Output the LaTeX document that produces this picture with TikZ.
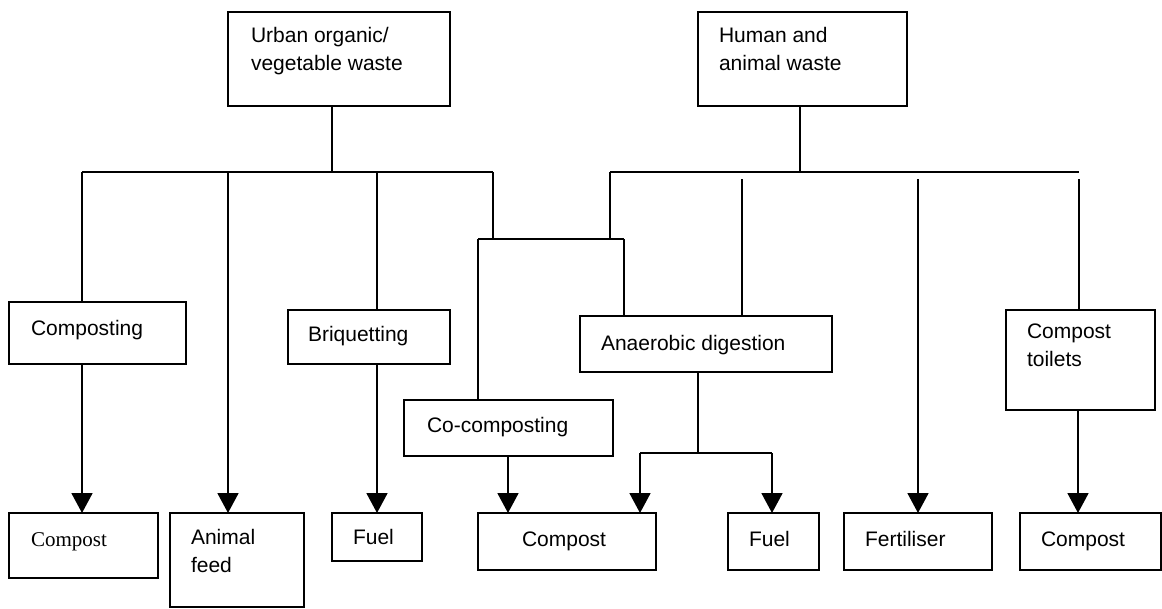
\documentclass[tikz,border=0pt]{standalone}
\usepackage{fontspec}
\setmainfont{Liberation Sans}
\newfontfamily\serifface{Liberation Serif}
\usetikzlibrary{arrows.meta}
\tikzset{
  box/.style={draw, line width=1.8pt, rectangle, inner sep=0pt, outer sep=0pt, anchor=north west},
  txt/.style={inner sep=0pt, outer sep=0pt, anchor=base west, align=left, font=\fontsize{21}{28}\selectfont},
  conn/.style={line width=1.8pt},
  arr/.style={line width=1.8pt, -{Triangle[length=20pt,width=21pt]}},
}
\begin{document}
\begin{tikzpicture}[x=1pt,y=-1pt]
\useasboundingbox (0,0) rectangle (1162,608);
% boxes
\node[box, minimum width=222pt, minimum height=94pt] (urban) at (228,12) {};
\node[box, minimum width=209pt, minimum height=94pt] (human) at (698,12) {};
\node[box, minimum width=177pt, minimum height=62pt] (composting) at (9,302) {};
\node[box, minimum width=162pt, minimum height=54pt] (briq) at (288,310) {};
\node[box, minimum width=209pt, minimum height=56pt] (cocomp) at (404,400) {};
\node[box, minimum width=252pt, minimum height=56pt] (anaer) at (580,316) {};
\node[box, minimum width=149pt, minimum height=100pt] (toilets) at (1006,310) {};
\node[box, minimum width=149pt, minimum height=65pt] (compostA) at (9,513) {};
\node[box, minimum width=134pt, minimum height=94pt] (feed) at (170,513) {};
\node[box, minimum width=90pt, minimum height=48pt] (fuelA) at (332,513) {};
\node[box, minimum width=178pt, minimum height=57pt] (compostB) at (478,513) {};
\node[box, minimum width=91pt, minimum height=57pt] (fuelB) at (728,513) {};
\node[box, minimum width=148pt, minimum height=57pt] (fert) at (844,513) {};
\node[box, minimum width=141pt, minimum height=57pt] (compostC) at (1020,513) {};
% texts (multi-line nodes are placed at the baseline of their last line)
\node[txt] (turban) at (251,70) {Urban organic/\\vegetable waste};
\node[txt] (thuman) at (719,70) {Human and\\animal waste};
\node[txt] (tcomposting) at (31,335) {Composting};
\node[txt] (tbriq) at (308,341) {Briquetting};
\node[txt] (tcocomp) at (427,432) {Co-composting};
\node[txt] (tanaer) at (601,350) {Anaerobic digestion};
\node[txt] (ttoilets) at (1027,366) {Compost\\toilets};
\node[txt, font=\serifface\fontsize{21}{28}\selectfont] (tcompostA) at (31,546) {Compost};
\node[txt] (tfeed) at (191,572) {Animal\\feed};
\node[txt] (tfuelA) at (353,544) {Fuel};
\node[txt] (tcompostB) at (522,546) {Compost};
\node[txt] (tfuelB) at (749,546) {Fuel};
\node[txt] (tfert) at (865,546) {Fertiliser};
\node[txt] (tcompostC) at (1041,546) {Compost};
% junction coordinates
\coordinate (ju) at (332,172);
\coordinate (juL) at (82,172);
\coordinate (juF) at (228,172);
\coordinate (juB) at (377,172);
\coordinate (juR) at (493,172);
\coordinate (jh) at (800,172);
\coordinate (jhL) at (610,172);
\coordinate (jhR) at (1079,172);
\coordinate (gA) at (742,179);
\coordinate (gF) at (918,179);
\coordinate (gT) at (1079,179);
\coordinate (mL) at (478,239);
\coordinate (mR) at (624,239);
\coordinate (ja) at (698,453);
\coordinate (jaL) at (640,453);
\coordinate (jaR) at (772,453);
% urban tree
\draw[conn] (urban.south -| ju) -- (ju);
\draw[conn] (juL) -- (juR);
\draw[conn] (juL) -- (juL |- composting.north);
\draw[arr] (juF) -- (juF |- feed.north);
\draw[conn] (juB) -- (juB |- briq.north);
\draw[conn] (juR) -- (juR |- mL);
% human tree
\draw[conn] (human.south -| jh) -- (jh);
\draw[conn] (jhL) -- (jhR);
\draw[conn] (jhL) -- (jhL |- mL);
\draw[conn] (gA) -- (gA |- anaer.north);
\draw[arr] (gF) -- (gF |- fert.north);
\draw[conn] (gT) -- (gT |- toilets.north);
% shared
\draw[conn] (mL) -- (mR);
\draw[conn] (mL) -- (mL |- cocomp.north);
\draw[conn] (mR) -- (mR |- anaer.north);
% outputs
\draw[arr] (composting.south -| juL) -- (juL |- compostA.north);
\draw[arr] (briq.south -| juB) -- (juB |- fuelA.north);
\draw[arr] (cocomp.south -| 508,0) -- (508,0 |- compostB.north);
\draw[conn] (anaer.south -| ja) -- (ja);
\draw[conn] (jaL) -- (jaR);
\draw[arr] (jaL) -- (jaL |- compostB.north);
\draw[arr] (jaR) -- (jaR |- fuelB.north);
\draw[arr] (toilets.south -| 1078,0) -- (1078,0 |- compostC.north);
\end{tikzpicture}
\end{document}
